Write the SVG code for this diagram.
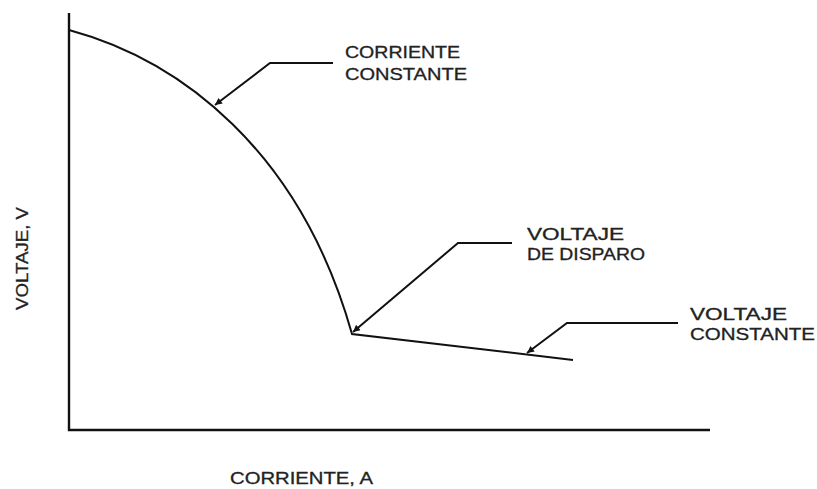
<svg xmlns="http://www.w3.org/2000/svg" width="817" height="489" viewBox="0 0 817 489">
<defs>
<marker id="ah" viewBox="0 0 10 10" refX="10" refY="5" markerWidth="9" markerHeight="7" markerUnits="userSpaceOnUse" orient="auto">
<path d="M0,0 L10,5 L0,10 Z" fill="#111"/>
</marker>
</defs>
<style>
.ax{fill:none;stroke:#111;stroke-width:2.4}
.cv{fill:none;stroke:#111;stroke-width:2}
.ld{fill:none;stroke:#111;stroke-width:2}
.t{font-family:"Liberation Sans",Arial,sans-serif;font-size:16px;fill:#222;stroke:#222;stroke-width:0.3}
</style>
<rect width="817" height="489" fill="#fff"/>
<g id="axes">
<path class="ax" d="M69,13 L69,430 L710,430"/>
</g>
<g id="curve">
<path class="cv" d="M69,30 C180,60 300,150 352,334 L573,360"/>
</g>
<g id="connectors">
<path class="ld" d="M333,63 L270,63 L215,105" marker-end="url(#ah)"/>
<path class="ld" d="M512,243 L458,243 L353,332" marker-end="url(#ah)"/>
<path class="ld" d="M678,323 L567,323 L527,353" marker-end="url(#ah)"/>
</g>
<g id="label-corriente-constante">
<text class="t" x="345" y="58" textLength="115" lengthAdjust="spacingAndGlyphs">CORRIENTE</text>
<text class="t" x="345" y="80" textLength="122" lengthAdjust="spacingAndGlyphs">CONSTANTE</text>
</g>
<g id="label-voltaje-disparo">
<text class="t" x="527" y="240" textLength="97" lengthAdjust="spacingAndGlyphs">VOLTAJE</text>
<text class="t" x="527" y="260" textLength="118" lengthAdjust="spacingAndGlyphs">DE DISPARO</text>
</g>
<g id="label-voltaje-constante">
<text class="t" x="690" y="320" textLength="97" lengthAdjust="spacingAndGlyphs">VOLTAJE</text>
<text class="t" x="690" y="340" textLength="125" lengthAdjust="spacingAndGlyphs">CONSTANTE</text>
</g>
<g id="axis-labels">
<text class="t" x="230" y="484" textLength="143" lengthAdjust="spacingAndGlyphs">CORRIENTE, A</text>
<text class="t" transform="translate(28,310) rotate(-90)" x="0" y="0" textLength="103" lengthAdjust="spacingAndGlyphs">VOLTAJE, V</text>
</g>
</svg>
